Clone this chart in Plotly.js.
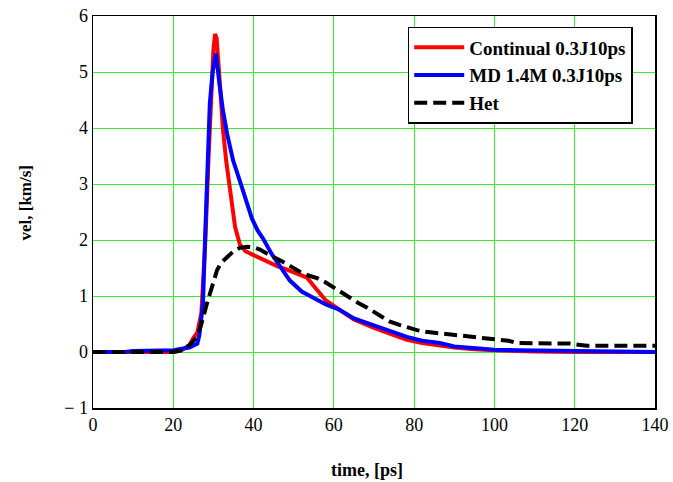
<!DOCTYPE html>
<html>
<head>
<meta charset="utf-8">
<script src="https://cdn.plot.ly/plotly-3.0.1.min.js"></script>
<style>html,body{margin:0;padding:0;background:#fff;}#chart{width:673px;height:482px;}</style>
</head>
<body>
<div id="chart"></div>
<script>
var contX = [0,10,20,22,24,25,26,27,28,28.8,29.5,30,30.4,30.8,31.4,32.4,33.2,34.1,35.4,36.6,38,40,42,44,46,48,50,52,53.3,55,56,58,61.5,65,70,74,78,82,86,90,95,100,110,120,140];
var contY = [0,0,0,0.03,0.12,0.25,0.35,0.7,2.0,3.5,4.8,5.4,5.68,5.6,5.0,3.96,3.4,2.95,2.23,1.92,1.8,1.73,1.66,1.6,1.53,1.48,1.43,1.38,1.33,1.18,1.1,0.92,0.75,0.58,0.43,0.32,0.22,0.16,0.12,0.08,0.05,0.03,0.01,0,0];

var mdX = [0,8,10,20,24,26,26.5,27.4,28,28.4,29.1,29.8,30.6,31.6,32.4,33.4,34.9,36.6,38,39.6,41,42.4,44.5,46,49,52,56,58,61.5,65,69.8,74,78.2,82,86.4,90,94,100,106,115,125,140];
var mdY = [0,0,0.02,0.03,0.08,0.15,0.3,0.87,2.2,2.95,4.44,5.0,5.33,4.73,4.3,3.9,3.42,3.05,2.72,2.38,2.17,2.02,1.75,1.6,1.28,1.08,0.92,0.85,0.75,0.6,0.48,0.37,0.27,0.2,0.16,0.1,0.07,0.04,0.03,0.02,0.01,0];

var hetX = [0,10,20,22,24,25.9,27,28.4,29.5,30.9,32,33.4,35,36.6,38.4,40,41.6,43.3,45,47.3,49.5,51.6,53.5,55.8,57.8,59.8,62,64,66,68.3,70,72.2,74,76.5,78.5,80.7,83,85.7,89.7,94,98.2,101.4,103.5,105.6,110,114.6,118.8,123,130,140];
var hetY = [0,0,0,0.03,0.12,0.27,0.5,0.87,1.15,1.46,1.6,1.7,1.8,1.86,1.88,1.87,1.83,1.76,1.7,1.61,1.52,1.43,1.37,1.32,1.25,1.16,1.06,0.96,0.88,0.79,0.71,0.61,0.54,0.48,0.43,0.39,0.36,0.34,0.3,0.27,0.25,0.23,0.2,0.16,0.16,0.16,0.15,0.11,0.11,0.11];

var xTicks = [0,20,40,60,80,100,120,140];
var xTickText = ["0","20","40","60","80","100","120","140"];
var yTicks = [-1,0,1,2,3,4,5,6];
var yTickText = ["\u2212 1","0","1","2","3","4","5","6"];
var xTitle = 'time, [ps]';
var yTitle = 'vel, [km/s]';

var traces = [
  {x: contX, y: contY, mode: 'lines', name: 'Continual 0.3J10ps', line: {color: '#ff0000', width: 4}},
  {x: mdX, y: mdY, mode: 'lines', name: 'MD 1.4M 0.3J10ps', line: {color: '#0000ff', width: 4}},
  {x: hetX, y: hetY, mode: 'lines', name: 'Het', line: {color: '#000000', width: 4, dash: '13px,6px'}}
];

var serif = '"Liberation Serif", "Times New Roman", serif';
var layout = {
  width: 673, height: 482,
  margin: {l: 93, r: 18, t: 16, b: 74},
  paper_bgcolor: '#fff', plot_bgcolor: '#fff',
  font: {family: serif, color: '#000', size: 18},
  showlegend: true,
  legend: {x: 0.56, y: 0.972, xanchor: 'left', yanchor: 'top', bgcolor: '#fff', bordercolor: '#000', borderwidth: 1.5,
           itemwidth: 50,
           font: {family: serif, size: 19, color: '#000', weight: 'bold'}, tracegroupgap: 0},
  xaxis: {range: [0, 140], tickvals: xTicks, ticktext: xTickText, showgrid: true, gridcolor: '#33ee33', gridwidth: 1,
          zeroline: false, showline: true, mirror: true, linecolor: '#000', linewidth: 1.5, ticks: '',
          tickfont: {family: serif, size: 18}},
  yaxis: {range: [-1, 6], tickvals: yTicks, ticktext: yTickText, showgrid: true, gridcolor: '#33ee33', gridwidth: 1,
          zeroline: false, showline: true, mirror: true, linecolor: '#000', linewidth: 1.5, ticks: '',
          tickfont: {family: serif, size: 18}},
  annotations: [
    {text: '<b>' + xTitle + '</b>', xref: 'paper', yref: 'paper', x: 0.488, y: -0.158, xanchor: 'center', yanchor: 'middle',
     showarrow: false, font: {family: serif, size: 18, color: '#000'}},
    {text: '<b>' + yTitle + '</b>', xref: 'paper', yref: 'paper', x: -0.12, y: 0.523, xanchor: 'center', yanchor: 'middle',
     textangle: -90, showarrow: false, font: {family: serif, size: 17, color: '#000'}}
  ]
};
Plotly.newPlot('chart', traces, layout, {displayModeBar: false, staticPlot: true});
</script>
</body>
</html>
